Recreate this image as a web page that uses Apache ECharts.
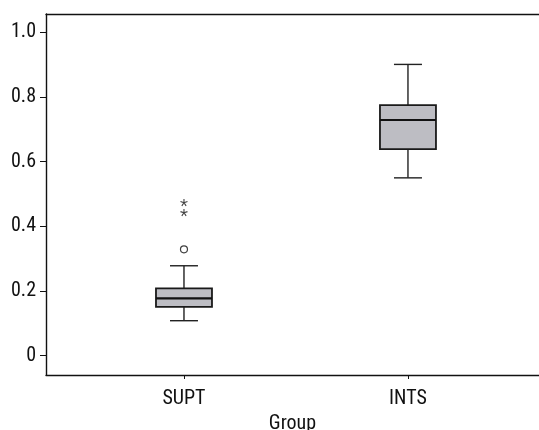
<!DOCTYPE html>
<html><head><meta charset="utf-8">
<script src="https://cdn.jsdelivr.net/npm/echarts@6/dist/echarts.min.js"></script>
<style>html,body{margin:0;padding:0;background:#fff}#c{width:539px;height:430px}</style>
</head><body><div id="c"></div>
<script>
var categories = ['SUPT', 'INTS'];
var catPositions = [1, 2];
// [min, Q1, median, Q3, max]
var boxStats = [
  [0.108, 0.151, 0.177, 0.208, 0.278],
  [0.550, 0.639, 0.729, 0.775, 0.901]
];
var outliersCircle = [[1, 0.329]];
var outliersStar = [[1, 0.474], [1, 0.443]];
var yTicks = [0, 0.2, 0.4, 0.6, 0.8, 1.0];
var xTitle = 'Group';

var FONT = '"Roboto Condensed", "Liberation Sans Narrow", sans-serif';
var boxData = boxStats.map(function (s, i) { return [catPositions[i]].concat(s); });

var chart = echarts.init(document.getElementById('c'), null, {renderer: 'canvas'});
chart.setOption({
  animation: false,
  backgroundColor: '#fff',
  grid: {left: 46, right: 0, top: 14, bottom: 55, containLabel: false, outerBoundsMode: 'none'},
  xAxis: [{
    type: 'value', min: 0.384, max: 2.585, position: 'bottom',
    splitLine: {show: false},
    axisLine: {show: true, onZero: false, lineStyle: {color: '#111', width: 1.4}},
    axisTick: {show: true, customValues: catPositions, length: 4, lineStyle: {color: '#111'}},
    axisLabel: {
      customValues: catPositions, margin: 14, color: '#111', fontSize: 20, fontFamily: FONT,
      formatter: function (v) { var i = catPositions.indexOf(v); return i >= 0 ? categories[i] : ''; }
    },
    name: xTitle, nameLocation: 'middle', nameGap: 36,
    nameTextStyle: {color: '#111', fontSize: 20, fontFamily: FONT}
  }, {
    type: 'value', min: 0.384, max: 2.585, position: 'top',
    splitLine: {show: false},
    axisLine: {show: true, onZero: false, lineStyle: {color: '#111', width: 1.4}},
    axisTick: {show: false}, axisLabel: {show: false}
  }],
  yAxis: {
    type: 'value', min: -0.06, max: 1.057,
    splitLine: {show: false},
    axisLine: {show: true, onZero: false, lineStyle: {color: '#111', width: 1.4}},
    axisTick: {show: true, customValues: yTicks, length: 6, lineStyle: {color: '#111'}},
    axisLabel: {
      customValues: yTicks, margin: 10, color: '#111', fontSize: 20, fontFamily: FONT,
      formatter: function (v) { return v === 0 ? '0' : v.toFixed(1); }
    }
  },
  series: [{
    type: 'custom',
    data: boxData,
    renderItem: function (params, api) {
      var x = api.value(0);
      var pMin = api.coord([x, api.value(1)]);
      var pQ1 = api.coord([x, api.value(2)]);
      var pMed = api.coord([x, api.value(3)]);
      var pQ3 = api.coord([x, api.value(4)]);
      var pMax = api.coord([x, api.value(5)]);
      var hw = api.size([0.125, 0])[0];
      var cw = api.size([0.0625, 0])[0];
      var cx = pMed[0];
      var line = {stroke: '#222', lineWidth: 1.4};
      return {
        type: 'group',
        children: [
          {type: 'line', shape: {x1: cx, y1: pMax[1], x2: cx, y2: pQ3[1]}, style: line},
          {type: 'line', shape: {x1: cx, y1: pMin[1], x2: cx, y2: pQ1[1]}, style: line},
          {type: 'line', shape: {x1: cx - cw, y1: pMax[1], x2: cx + cw, y2: pMax[1]}, style: line},
          {type: 'line', shape: {x1: cx - cw, y1: pMin[1], x2: cx + cw, y2: pMin[1]}, style: line},
          {type: 'rect', shape: {x: cx - hw, y: pQ3[1], width: 2 * hw, height: pQ1[1] - pQ3[1]},
           style: {fill: '#bdbdc3', stroke: '#1a1a1a', lineWidth: 1.8}},
          {type: 'line', shape: {x1: cx - hw, y1: pMed[1], x2: cx + hw, y2: pMed[1]},
           style: {stroke: '#111', lineWidth: 2.2}}
        ]
      };
    },
    encode: {x: 0, y: [1, 2, 3, 4, 5]},
    z: 2
  }, {
    type: 'scatter', data: outliersCircle, symbol: 'circle', symbolSize: 7,
    itemStyle: {color: '#fff', borderColor: '#111', borderWidth: 1.2}
  }, {
    type: 'scatter', data: outliersStar,
    symbol: 'path://M0,0L0,-5M0,0L-4.76,-1.55M0,0L-2.94,4.05M0,0L2.94,4.05M0,0L4.76,-1.55',
    symbolSize: [7, 7],
    itemStyle: {color: 'none', borderColor: '#111', borderWidth: 1.1}
  }]
});
</script></body></html>
